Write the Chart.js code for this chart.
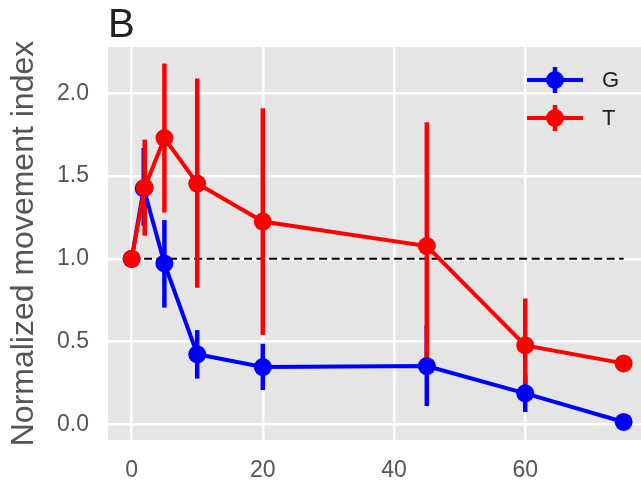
<!DOCTYPE html>
<html>
<head>
<meta charset="utf-8">
<script src="https://cdn.jsdelivr.net/npm/chart.js@4/dist/chart.umd.min.js"></script>
<style>
  html, body { margin: 0; padding: 0; background: #ffffff; }
  #c { display: block; }
</style>
</head>
<body>
<canvas id="c" width="641" height="484"></canvas>
<script>
// ---- data ----
const seriesNames = ['G', 'T'];
const xG   = [0, 1.85, 5, 10, 20, 45, 60, 75];
const gVal = [1.00, 1.425, 0.972, 0.423, 0.346, 0.352, 0.187, 0.014];
const gLo  = [1.00, 1.20, 0.705, 0.276, 0.207, 0.110, 0.074, 0.014];
const gHi  = [1.00, 1.67, 1.234, 0.569, 0.487, 0.598, 0.296, 0.014];
const xT   = [0, 2, 5, 10, 20, 45, 60, 75];
const tVal = [1.00, 1.43, 1.73, 1.455, 1.225, 1.077, 0.477, 0.368];
const tLo  = [1.00, 1.14, 1.28, 0.825, 0.540, 0.370, 0.245, 0.368];
const tHi  = [1.00, 1.72, 2.18, 2.090, 1.910, 1.826, 0.760, 0.368];
const refLevel = 1.0;
const refX = [0, 75];
const xTicks = [0, 20, 40, 60];
const yTicks = [0.0, 0.5, 1.0, 1.5, 2.0];

const BLUE = '#0000ff', RED = '#ff0000';
const FONT = "'Liberation Sans', Arial, sans-serif";

const bgPlugin = {
  id: 'bg',
  beforeDraw(chart) {
    const {ctx, chartArea: a} = chart;
    ctx.save();
    ctx.fillStyle = '#ffffff';
    ctx.fillRect(0, 0, chart.width, chart.height);
    ctx.fillStyle = '#e5e5e5';
    ctx.fillRect(a.left, a.top, a.right - a.left, a.bottom - a.top);
    ctx.restore();
  }
};

const errPlugin = {
  id: 'errbars',
  beforeDatasetsDraw(chart) {
    const {ctx} = chart;
    const xs = chart.scales.x, ys = chart.scales.y;
    ctx.save();
    // dashed reference line
    ctx.strokeStyle = '#000000';
    ctx.lineWidth = 2;
    ctx.setLineDash([8, 4.5]);
    ctx.beginPath();
    ctx.moveTo(xs.getPixelForValue(refX[0]), ys.getPixelForValue(refLevel));
    ctx.lineTo(xs.getPixelForValue(refX[1]), ys.getPixelForValue(refLevel));
    ctx.stroke();
    ctx.setLineDash([]);
    // error bars (under all lines/markers)
    const sets = [[xG, gLo, gHi, BLUE], [xT, tLo, tHi, RED]];
    ctx.lineWidth = 4.5;
    ctx.lineCap = 'butt';
    for (const [xa, lo, hi, col] of sets) {
      ctx.strokeStyle = col;
      for (let i = 0; i < xa.length; i++) {
        if (hi[i] - lo[i] <= 0) continue;
        const px = xs.getPixelForValue(xa[i]);
        ctx.beginPath();
        ctx.moveTo(px, ys.getPixelForValue(lo[i]));
        ctx.lineTo(px, ys.getPixelForValue(hi[i]));
        ctx.stroke();
      }
    }
    ctx.restore();
  }
};

const legendPlugin = {
  id: 'customLegend',
  afterDraw(chart) {
    const {ctx} = chart;
    const cols = [BLUE, RED];
    const rows = [80, 118];
    ctx.save();
    seriesNames.forEach((name, i) => {
      const y = rows[i];
      ctx.strokeStyle = cols[i];
      ctx.fillStyle = cols[i];
      ctx.lineWidth = 4;
      ctx.beginPath(); ctx.moveTo(527, y); ctx.lineTo(583, y); ctx.stroke();
      ctx.lineWidth = 4.5;
      ctx.beginPath(); ctx.moveTo(555, y - 13); ctx.lineTo(555, y + 13); ctx.stroke();
      ctx.beginPath(); ctx.arc(555, y, 9, 0, Math.PI * 2); ctx.fill();
      ctx.fillStyle = '#222222';
      ctx.font = "22px " + FONT;
      ctx.textBaseline = 'middle';
      ctx.textAlign = 'left';
      ctx.fillText(name, 602, y + 1);
    });
    ctx.restore();
  }
};

const mk = (xa, va) => xa.map((x, i) => ({x: x, y: va[i]}));

new Chart(document.getElementById('c'), {
  type: 'line',
  data: {
    datasets: [
      { label: seriesNames[0], data: mk(xG, gVal), borderColor: BLUE, backgroundColor: BLUE,
        borderWidth: 4, pointRadius: 9, pointBorderWidth: 0, pointHoverRadius: 9, tension: 0, order: 1 },
      { label: seriesNames[1], data: mk(xT, tVal), borderColor: RED, backgroundColor: RED,
        borderWidth: 4, pointRadius: 9, pointBorderWidth: 0, pointHoverRadius: 9, tension: 0, order: 0 }
    ]
  },
  options: {
    responsive: false,
    animation: false,
    devicePixelRatio: 1,
    events: [],
    layout: { padding: 0, autoPadding: false },
    plugins: {
      legend: { display: false },
      tooltip: { enabled: false },
      title: {
        display: true, text: 'B', align: 'start', fullSize: false,
        color: '#222222', font: { family: FONT, size: 40, weight: 'normal', lineHeight: 1.0 },
        padding: { top: 6, bottom: 1 }
      }
    },
    scales: {
      x: {
        type: 'linear', min: -3.6, max: 77.65,
        grid: { color: '#ffffff', lineWidth: 2.5, drawTicks: false },
        border: { display: false },
        ticks: { color: '#555555', font: { family: FONT, size: 23 }, padding: 17,
                 callback: v => String(v) },
        afterBuildTicks: s => { s.ticks = xTicks.map(v => ({value: v})); },
        afterFit: s => { s.height = 44; s.paddingLeft = 0; s.paddingRight = 0; }
      },
      y: {
        type: 'linear', min: -0.095, max: 2.28,
        grid: { color: '#ffffff', lineWidth: 2.5, drawTicks: false },
        border: { display: false },
        ticks: { color: '#555555', font: { family: FONT, size: 23 }, padding: 19,
                 callback: v => v.toFixed(1) },
        afterBuildTicks: s => { s.ticks = yTicks.map(v => ({value: v})); },
        afterFit: s => { s.width = 108; s.paddingTop = 0; s.paddingBottom = 0; },
        title: { display: true, text: 'Normalized movement index', color: '#555555',
                 font: { family: FONT, size: 32 }, padding: { top: 5, bottom: 0 } }
      }
    }
  },
  plugins: [bgPlugin, errPlugin, legendPlugin]
});
</script>
</body>
</html>
